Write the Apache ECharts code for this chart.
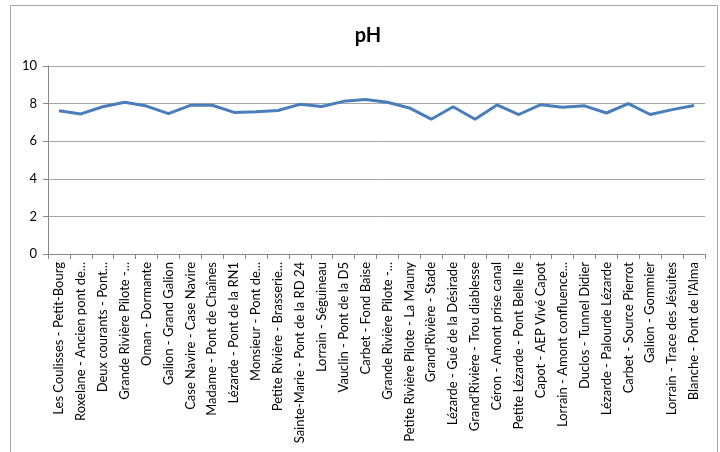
<!DOCTYPE html>
<html>
<head>
<meta charset="utf-8">
<script src="https://cdn.jsdelivr.net/npm/echarts@6/dist/echarts.min.js"></script>
<style>
html,body{margin:0;padding:0;background:#fff;}
#chart{width:720px;height:452px;}
</style>
</head>
<body>
<div id="chart"></div>
<script>
var categories = [
  "Les Coulisses - Petit-Bourg",
  "Roxelane - Ancien pont de...",
  "Deux courants - Pont...",
  "Grande Rivière Pilote -...",
  "Oman - Dormante",
  "Galion - Grand Galion",
  "Case Navire - Case Navire",
  "Madame - Pont de Chaînes",
  "Lézarde - Pont de la RN1",
  "Monsieur - Pont de...",
  "Petite Rivière - Brasserie...",
  "Sainte-Marie - Pont de la RD 24",
  "Lorrain - Séguineau",
  "Vauclin - Pont de la D5",
  "Carbet - Fond Baise",
  "Grande Rivière Pilote -...",
  "Petite Rivière Pilote - La Mauny",
  "Grand'Rivière - Stade",
  "Lézarde - Gué de la Désirade",
  "Grand'Rivière - Trou diablesse",
  "Céron - Amont prise canal",
  "Petite Lézarde - Pont Belle Ile",
  "Capot - AEP Vivé Capot",
  "Lorrain - Amont confluence...",
  "Duclos - Tunnel Didier",
  "Lézarde - Palourde Lézarde",
  "Carbet - Source Pierrot",
  "Galion - Gommier",
  "Lorrain - Trace des Jésuites",
  "Blanche - Pont de l'Alma"
];
var phValues = [7.62, 7.45, 7.83, 8.07, 7.87, 7.47, 7.91, 7.91, 7.53, 7.56,
                7.63, 7.96, 7.85, 8.12, 8.22, 8.07, 7.77, 7.17, 7.83, 7.17,
                7.93, 7.42, 7.94, 7.80, 7.88, 7.50, 8.00, 7.42, 7.68, 7.90];
var yTicks = [0, 2, 4, 6, 8, 10];

var chart = echarts.init(document.getElementById('chart'), null, {renderer: 'canvas'});
chart.setOption({
  animation: false,
  backgroundColor: '#ffffff',
  textStyle: {fontFamily: 'Lato'},
  graphic: [{
    type: 'rect',
    shape: {x: 10.5, y: 5.5, width: 707, height: 460},
    style: {fill: 'none', stroke: '#a6a6a6', lineWidth: 1},
    silent: true
  }],
  title: {
    text: 'pH',
    left: 363,
    textAlign: 'center',
    top: 21,
    textStyle: {fontFamily: 'Lato', fontSize: 20, fontWeight: 'bold', color: '#000'}
  },
  grid: {left: 48, right: 15, top: 66, bottom: 198, containLabel: false},
  xAxis: {
    type: 'category',
    data: categories,
    boundaryGap: true,
    axisLine: {lineStyle: {color: '#868686', width: 1}},
    axisTick: {show: true, length: 5, lineStyle: {color: '#868686'}},
    axisLabel: {rotate: 90, interval: 0, margin: 8, fontSize: 13, color: '#000', fontFamily: 'Lato'}
  },
  yAxis: {
    type: 'value',
    min: yTicks[0],
    max: yTicks[yTicks.length - 1],
    interval: 2,
    axisLine: {show: true, lineStyle: {color: '#868686', width: 1}},
    axisTick: {show: true, length: 5, lineStyle: {color: '#868686'}},
    axisLabel: {fontSize: 13, color: '#000', margin: 11, fontFamily: 'Lato'},
    splitLine: {show: true, lineStyle: {color: '#a6a6a6', width: 1}}
  },
  series: [{
    type: 'line',
    data: phValues,
    showSymbol: false,
    symbol: 'none',
    lineStyle: {color: '#4a7ebb', width: 3},
    itemStyle: {color: '#4a7ebb'}
  }]
});
</script>
</body>
</html>
